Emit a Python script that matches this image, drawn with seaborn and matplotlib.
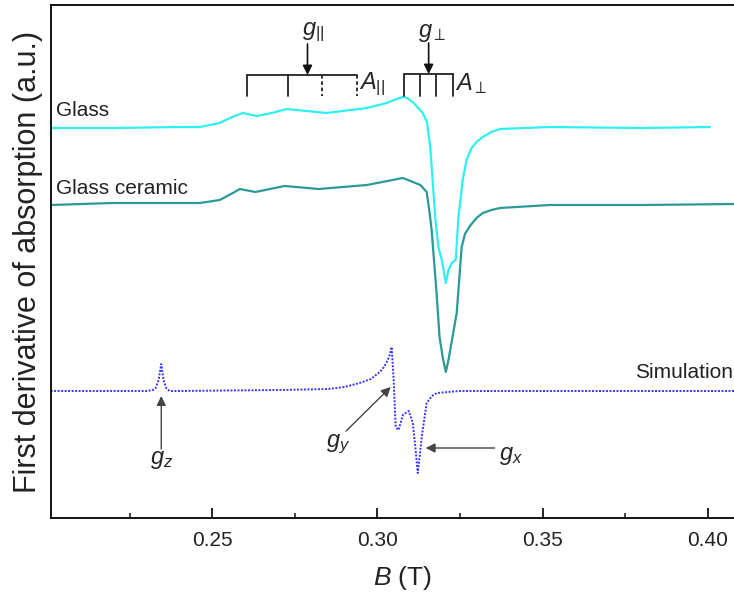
import numpy as np
import seaborn as sns
import matplotlib.pyplot as plt
from matplotlib.ticker import MultipleLocator, FormatStrFormatter

# field values (T) and first-derivative signals (a.u., offset per trace)
glass_B = [0.2010, 0.2200, 0.2400, 0.2462, 0.2522, 0.2560, 0.2592, 0.2634, 0.2680,
           0.2725, 0.2846, 0.2968, 0.3028, 0.3050, 0.3077, 0.3090, 0.3110, 0.3137,
           0.3150, 0.3160, 0.3167, 0.3175, 0.3185, 0.3195, 0.3207, 0.3215, 0.3225,
           0.3237, 0.3245, 0.3258, 0.3270, 0.3285, 0.3300, 0.3319, 0.3345, 0.3371,
           0.3522, 0.3800, 0.4007]
glass_y = [390, 390, 391, 391, 395, 401, 405, 402, 405,
           409, 405, 410, 415, 418, 421, 420, 415, 405,
           396, 370, 338, 300, 270, 258, 235, 248, 255,
           258, 300, 338, 358, 370, 376, 381, 386, 389,
           391, 390, 391]

ceramic_B = [0.2010, 0.2200, 0.2462, 0.2522, 0.2562, 0.2583, 0.2630, 0.2719, 0.2822,
             0.2968, 0.3077, 0.3100, 0.3130, 0.3149, 0.3158, 0.3164, 0.3179, 0.3188,
             0.3198, 0.3207, 0.3215, 0.3222, 0.3232, 0.3240, 0.3248, 0.3255, 0.3265,
             0.3280, 0.3300, 0.3319, 0.3345, 0.3371, 0.3522, 0.3800, 0.4080]
ceramic_y = [313, 315, 315, 318, 325, 329, 326, 332, 329,
             333, 340, 337, 333, 326, 305, 288, 225, 181,
             160, 146, 158, 171, 190, 205, 240, 271, 284,
             292, 300, 305, 308, 310, 313, 313, 314]

sim_B = [0.2010, 0.2300, 0.2320, 0.2328, 0.2337, 0.2345, 0.2352, 0.2360, 0.2370,
         0.2400, 0.2700, 0.2850, 0.2900, 0.2946, 0.2980, 0.3007, 0.3020, 0.3031,
         0.3038, 0.3043, 0.3049, 0.3055, 0.3064, 0.3077, 0.3095, 0.3107, 0.3115,
         0.3122, 0.3128, 0.3134, 0.3149, 0.3165, 0.3180, 0.3249, 0.4080]
sim_y = [127, 127, 128, 130, 138, 154, 138, 130, 127,
         127, 128, 129, 131, 135, 139, 146, 151, 158,
         164, 171, 138, 91, 88, 103, 107, 95, 70,
         45, 62, 81, 115, 122, 125, 127, 127]

# hyperfine line positions (T)
g_par_lines = [0.2604, 0.2729, 0.2831, 0.2937]
g_par_solid = [True, True, False, False]
g_par_center = 0.2788
g_perp_lines = [0.3080, 0.3128, 0.3177, 0.3228]
g_perp_center = 0.3155

sns.set_theme(style="ticks")
plt.rcParams["font.family"] = ["Liberation Sans", "DejaVu Sans"]
plt.rcParams["mathtext.fontset"] = "custom"
plt.rcParams["mathtext.rm"] = "Liberation Sans"
plt.rcParams["mathtext.it"] = "Liberation Sans:italic"
plt.rcParams["mathtext.bf"] = "Liberation Sans:bold"

fig = plt.figure(figsize=(7.34, 5.93), dpi=100)
ax = fig.add_axes([51 / 734, 75 / 593, 683 / 734, 513 / 593])

sns.lineplot(x=glass_B, y=glass_y, ax=ax, color="#2ef0f0", lw=1.6, sort=False)
sns.lineplot(x=ceramic_B, y=ceramic_y, ax=ax, color="#2a9a96", lw=1.6, sort=False)
sns.lineplot(x=sim_B, y=sim_y, ax=ax, color="#3535ff", lw=1.4, sort=False,
             linestyle=(0, (1, 0.8)))

ax.set_xlim(0.2011, 0.4080)
ax.set_ylim(0, 513)
ax.set_yticks([])
ax.xaxis.set_major_locator(MultipleLocator(0.05))
ax.xaxis.set_minor_locator(MultipleLocator(0.025))
ax.xaxis.set_major_formatter(FormatStrFormatter("%.2f"))
ax.tick_params(axis="x", which="major", direction="in", length=7, width=1.2,
               labelsize=15, pad=9, color="black", labelcolor="#222222")
ax.tick_params(axis="x", which="minor", direction="in", length=3.5, width=1.2)
for s in ["left", "bottom", "top"]:
    ax.spines[s].set_linewidth(1.3)
    ax.spines[s].set_color("black")
ax.spines["right"].set_visible(False)

ax.set_xlabel(r"$B$ (T)", fontsize=19, color="#222222")
ax.xaxis.set_label_coords(0.515, -0.09)
ax.set_ylabel("First derivative of absorption (a.u.)", fontsize=22, color="#222222")
ax.yaxis.set_label_coords(-0.012, 0.5)

# trace labels
ax.text(0.2025, 398, "Glass", fontsize=15, color="#222222", va="bottom")
ax.text(0.2025, 320, "Glass ceramic", fontsize=15, color="#222222", va="bottom")
ax.text(0.4077, 146, "Simulation", fontsize=15, color="#222222", ha="right", va="center")

# hyperfine brackets
bar_y, tick_y = 443, 422
ax.plot([g_par_lines[0], g_par_lines[-1]], [bar_y, bar_y], color="#222222", lw=1.3)
for b, solid in zip(g_par_lines, g_par_solid):
    ax.plot([b, b], [bar_y, tick_y], color="#222222", lw=1.3,
            linestyle="-" if solid else (0, (2, 1.5)))
ax.plot([g_perp_lines[0], g_perp_lines[-1]], [bar_y + 1, bar_y + 1], color="#222222", lw=1.3)
for b in g_perp_lines:
    ax.plot([b, b], [bar_y + 1, tick_y], color="#222222", lw=1.3)

arrow_k = dict(arrowstyle="-|>", color="#111111", lw=1.2, mutation_scale=14,
               shrinkA=0, shrinkB=0)
ax.annotate("", xy=(g_par_center, bar_y), xytext=(g_par_center, 474), arrowprops=arrow_k)
ax.annotate("", xy=(g_perp_center, bar_y + 1), xytext=(g_perp_center, 475), arrowprops=arrow_k)
ax.text(g_par_center + 0.0017, 474, r"$g_{||}$", fontsize=17, ha="center", va="bottom")
ax.text(g_perp_center + 0.0012, 474, r"$g_{\perp}$", fontsize=17, ha="center", va="bottom")
ax.text(0.2945, 434, r"$A_{||}$", fontsize=17, ha="left", va="center")
ax.text(0.3235, 434, r"$A_{\perp}$", fontsize=17, ha="left", va="center")

# simulation g-value arrows
arrow_g = dict(arrowstyle="-|>", color="#444444", lw=1.0, mutation_scale=14,
               shrinkA=0, shrinkB=0)
ax.annotate("", xy=(0.2345, 122), xytext=(0.2345, 69), arrowprops=arrow_g)
ax.text(0.2345, 58, r"$g_z$", fontsize=17, ha="center", va="center")
ax.annotate("", xy=(0.3040, 131), xytext=(0.2905, 87), arrowprops=arrow_g)
ax.text(0.2880, 74, r"$g_y$", fontsize=17, ha="center", va="center")
ax.annotate("", xy=(0.3146, 70), xytext=(0.3355, 70), arrowprops=arrow_g)
ax.text(0.3405, 62, r"$g_x$", fontsize=17, ha="center", va="center")

fig.savefig("out.png", dpi=100)
